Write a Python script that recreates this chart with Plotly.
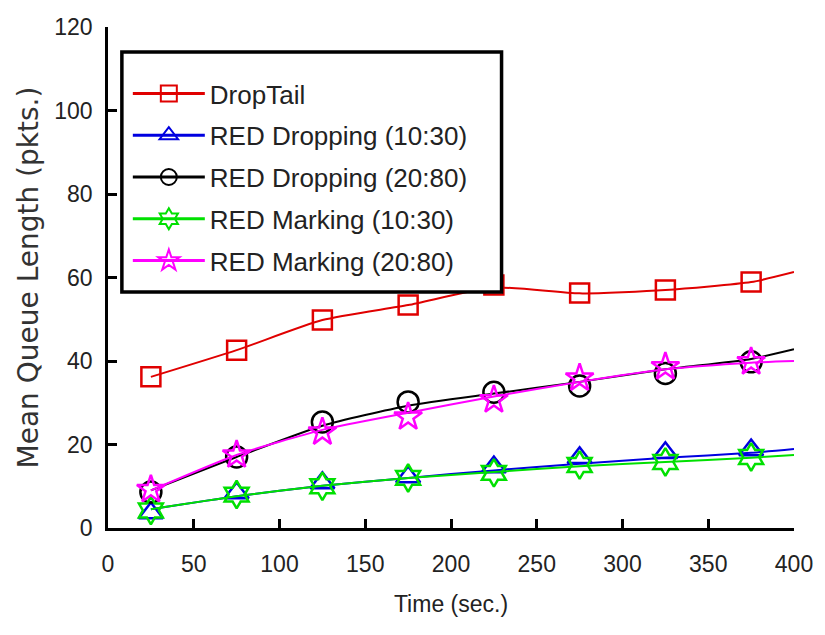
import plotly.graph_objects as go

# marker sample times
t_mark = [25, 75, 125, 175, 225, 275, 325, 375]
# fitted-curve sample times
t_curve = [25, 75, 125, 175, 225, 275, 325, 375, 400]

names = ["DropTail", "RED Dropping (10:30)", "RED Dropping (20:80)",
         "RED Marking (10:30)", "RED Marking (20:80)"]

droptail_mark = [36.2, 42.6, 49.8, 53.4, 58.2, 56.3, 57.0, 58.9]
droptail_curve = [36.2, 42.6, 49.8, 53.4, 57.6, 56.2, 57.0, 58.9, 61.3]

red_drop_1030_mark = [3.6, 8.4, 10.8, 12.2, 14.6, 16.8, 18.0, 18.7]
red_drop_1030_curve = [4.5, 7.6, 10.1, 12.0, 13.8, 15.4, 16.8, 18.0, 18.9]

red_drop_2080_mark = [8.6, 17.0, 25.4, 30.2, 32.5, 34.0, 37.0, 39.8]
red_drop_2080_curve = [9.0, 17.0, 24.5, 29.3, 32.2, 35.0, 38.0, 40.5, 42.8]

red_mark_1030_mark = [4.2, 8.0, 10.0, 12.0, 13.2, 15.1, 15.8, 17.0]
red_mark_1030_curve = [4.5, 7.6, 10.1, 12.0, 13.4, 14.8, 15.8, 16.8, 17.5]

red_mark_2080_mark = [9.2, 17.5, 23.0, 26.6, 30.7, 35.9, 38.6, 39.8]
red_mark_2080_curve = [9.0, 17.5, 23.5, 27.6, 31.5, 35.0, 38.0, 39.6, 40.0]

marks = [droptail_mark, red_drop_1030_mark, red_drop_2080_mark,
         red_mark_1030_mark, red_mark_2080_mark]
curves = [droptail_curve, red_drop_1030_curve, red_drop_2080_curve,
          red_mark_1030_curve, red_mark_2080_curve]

colors = ["#e00000", "#0000e0", "#000000", "#00e000", "#ff00ff"]
symbols = ["square-open", "triangle-up-open", "circle-open",
           "hexagram-open", "star-open"]
sizes = [19, 21, 21, 21, 21]

x_ticks = [0, 50, 100, 150, 200, 250, 300, 350, 400]
y_ticks = [0, 20, 40, 60, 80, 100, 120]

FONT = "Liberation Sans, Arial, sans-serif"

fig = go.Figure()
for i in range(5):
    fig.add_trace(go.Scatter(
        x=t_curve, y=curves[i], mode="lines",
        line=dict(color=colors[i], width=2, shape="spline", smoothing=0.6),
        showlegend=False, legendgroup=names[i], hoverinfo="skip"))
    fig.add_trace(go.Scatter(
        x=t_mark, y=marks[i], mode="markers",
        marker=dict(symbol=symbols[i], color=colors[i], size=sizes[i],
                    line=dict(width=2.5, color=colors[i])),
        showlegend=False, legendgroup=names[i]))
# legend entries
for i in range(5):
    fig.add_trace(go.Scatter(
        x=[None], y=[None], mode="lines+markers", name=names[i], legendgroup=names[i],
        line=dict(color=colors[i], width=3),
        marker=dict(symbol=symbols[i], color=colors[i], size=sizes[i],
                    line=dict(width=2, color=colors[i]))))

# legend frame (white box with thick black border)
fig.add_shape(type="rect", xref="paper", yref="paper",
              x0=(122 - 108) / 692, x1=(505 - 108) / 692,
              y0=1 - (292 - 27) / 501, y1=1 - (52 - 27) / 501,
              line=dict(color="black", width=3.5), fillcolor="white", layer="above")

fig.update_layout(
    width=825, height=635,
    margin=dict(l=108, r=25, t=27, b=107),
    plot_bgcolor="white", paper_bgcolor="white",
    font=dict(family=FONT, size=20, color="#222222"),
    showlegend=True,
    legend=dict(
        x=(128 - 108) / 692, y=1 - (70 - 27) / 501, xanchor="left", yanchor="top",
        borderwidth=0, bgcolor="rgba(0,0,0,0)",
        font=dict(family=FONT, size=26, color="#222222"),
        itemwidth=72, tracegroupgap=5, traceorder="grouped",
    ),
    xaxis=dict(
        range=[0, 400], tickvals=x_ticks, ticktext=[str(v) for v in x_ticks],
        showline=True, linecolor="black", linewidth=2.5, mirror=False,
        ticks="inside", ticklen=9, tickwidth=2.5, tickcolor="black",
        showgrid=False, zeroline=False, ticklabelstandoff=14,
        title=dict(text="Time (sec.)", font=dict(family=FONT, size=23), standoff=20),
        tickfont=dict(family=FONT, size=23),
    ),
    yaxis=dict(
        range=[0, 120], tickvals=y_ticks, ticktext=[str(v) for v in y_ticks],
        showline=True, linecolor="black", linewidth=2.5, mirror=False,
        ticks="inside", ticklen=9, tickwidth=2.5, tickcolor="black",
        showgrid=False, zeroline=False, ticklabelstandoff=8,
        title=dict(text="Mean Queue Length (pkts.)",
                   font=dict(family="DejaVu Sans, sans-serif", size=28, color="#333333"),
                   standoff=8),
        tickfont=dict(family=FONT, size=23),
    ),
)

fig.write_html("out.html")
